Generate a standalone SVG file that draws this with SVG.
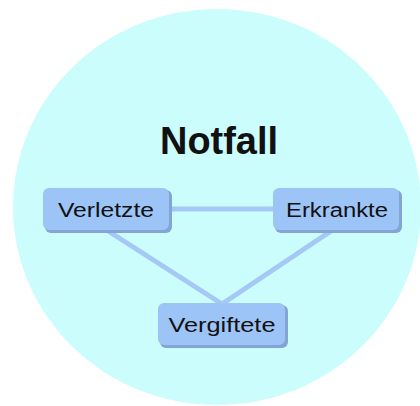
<svg xmlns="http://www.w3.org/2000/svg" width="420" height="406" viewBox="0 0 420 406">
<defs>
<style>
.conn{stroke:#a5c8f6;stroke-width:5;fill:none;stroke-linecap:butt}
.shadow{fill:#84a4d4}
.box{fill:#9dc4f7}
.lbl{font-family:"Liberation Sans",Arial,sans-serif;font-size:20px;fill:#111;text-anchor:middle}
.title{font-family:"Liberation Sans",Arial,sans-serif;font-size:38px;font-weight:bold;fill:#111;text-anchor:middle}
</style>
</defs>
<rect width="420" height="406" fill="#ffffff"/>
<ellipse cx="217" cy="207" rx="204" ry="198" fill="#ccfdfd"/>
<text class="title" x="219" y="154" textLength="118" lengthAdjust="spacingAndGlyphs">Notfall</text>
<g id="connectors">
<line class="conn" x1="170" y1="209" x2="273" y2="209"/>
<line class="conn" x1="105" y1="229" x2="222" y2="304"/>
<line class="conn" x1="334" y1="229" x2="222" y2="304"/>
</g>
<g id="verletzte">
<rect class="shadow" x="45" y="190" width="127" height="43" rx="6"/>
<rect class="box" x="43" y="188" width="126" height="42" rx="6"/>
<text class="lbl" x="106" y="217" textLength="96" lengthAdjust="spacingAndGlyphs">Verletzte</text>
</g>
<g id="erkrankte">
<rect class="shadow" x="275" y="190" width="127" height="43" rx="6"/>
<rect class="box" x="273" y="188" width="126" height="42" rx="6"/>
<text class="lbl" x="337" y="217" textLength="102" lengthAdjust="spacingAndGlyphs">Erkrankte</text>
</g>
<g id="vergiftete">
<rect class="shadow" x="160" y="305" width="128" height="43" rx="6"/>
<rect class="box" x="158" y="303" width="127" height="42" rx="6"/>
<text class="lbl" x="222" y="332" textLength="107" lengthAdjust="spacingAndGlyphs">Vergiftete</text>
</g>
</svg>
